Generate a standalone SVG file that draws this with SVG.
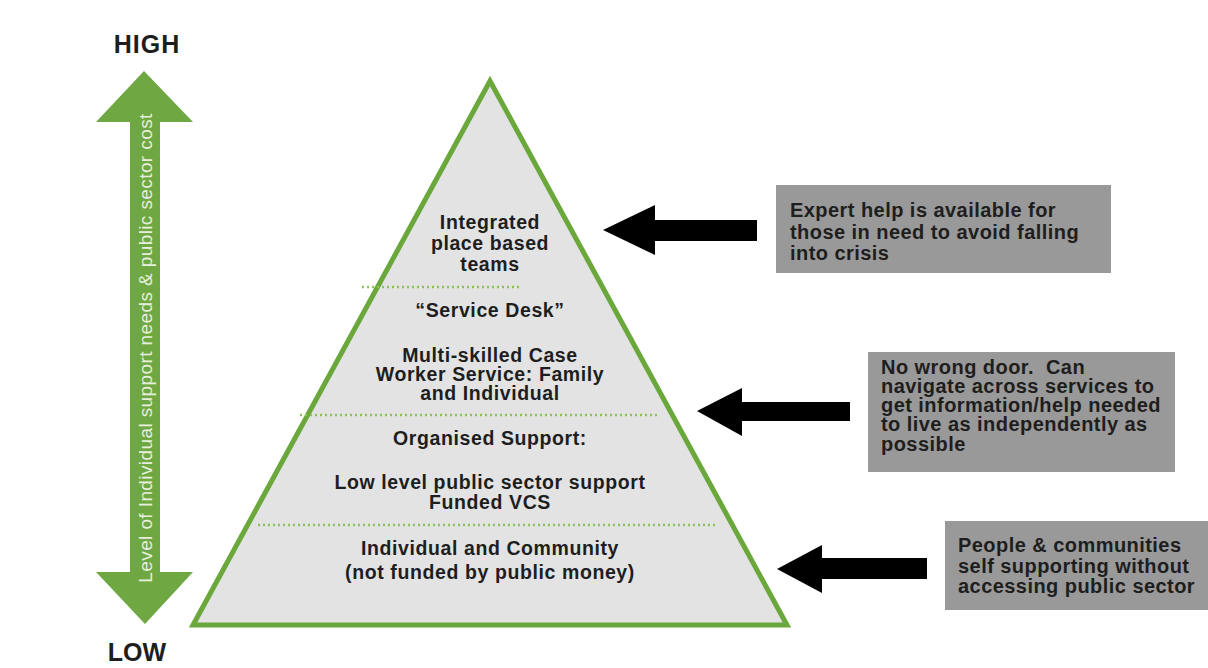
<svg xmlns="http://www.w3.org/2000/svg" width="1208" height="668" viewBox="0 0 1208 668">
<style>
.t{font-family:"Liberation Sans",Arial,sans-serif;font-weight:bold;fill:#1e1e1e}
.pt{font-size:19.5px;text-anchor:middle;letter-spacing:0.6px}
.bt{font-size:20px;letter-spacing:0.45px}
.dot{stroke:#8fbf5f;stroke-width:2.5;stroke-dasharray:2 3}
.box{fill:#999999}
.blk{fill:#000}
</style>
<rect width="1208" height="668" fill="#ffffff"/>
<g id="axis">
<text class="t" x="147" y="53" font-size="25" text-anchor="middle" letter-spacing="1">HIGH</text>
<text class="t" x="137" y="661" font-size="25" text-anchor="middle">LOW</text>
<path d="M144,71 L193,122 L160,122 L160,572 L193,572 L145,624 L96,572 L130,572 L130,122 L96,122 Z" fill="#6fa843"/>
<text class="t" transform="translate(152,348) rotate(-90)" font-size="19" text-anchor="middle" style="font-weight:normal;fill:#e6efdc" letter-spacing="0.4">Level of Individual support needs &amp; public sector cost</text>
</g>
<g id="pyramid">
<polygon points="490,81 193,625 787,625" fill="#e3e3e3" stroke="#6aa83c" stroke-width="5" stroke-linejoin="miter"/>
<line class="dot" x1="362" y1="287" x2="522" y2="287"/>
<line class="dot" x1="300" y1="415" x2="660" y2="415"/>
<line class="dot" x1="258" y1="525" x2="718" y2="525"/>
</g>
<g id="tier1">
<text class="t pt" x="490" y="229">Integrated</text>
<text class="t pt" x="490" y="250">place based</text>
<text class="t pt" x="490" y="271">teams</text>
</g>
<g id="tier2">
<text class="t pt" x="490" y="317">“Service Desk”</text>
<text class="t pt" x="490" y="362">Multi-skilled Case</text>
<text class="t pt" x="490" y="381">Worker Service: Family</text>
<text class="t pt" x="490" y="400">and Individual</text>
</g>
<g id="tier3">
<text class="t pt" x="490" y="445">Organised Support:</text>
<text class="t pt" x="490" y="489">Low level public sector support</text>
<text class="t pt" x="490" y="509">Funded VCS</text>
</g>
<g id="tier4">
<text class="t pt" x="490" y="555">Individual and Community</text>
<text class="t pt" x="490" y="579">(not funded by public money)</text>
</g>
<g id="connectors">
<path class="blk" d="M603,230 L655,205 L655,220 L757,220 L757,241 L655,241 L655,255 Z"/>
<path class="blk" d="M697,411 L742,388 L742,402 L850,402 L850,421 L742,421 L742,436 Z"/>
<path class="blk" d="M777,569 L822,545 L822,558 L927,558 L927,579 L822,579 L822,593 Z"/>
</g>
<g id="box1">
<rect class="box" x="776" y="185" width="335" height="88"/>
<text class="t bt" x="790" y="217">Expert help is available for</text>
<text class="t bt" x="790" y="239">those in need to avoid falling</text>
<text class="t bt" x="790" y="260">into crisis</text>
</g>
<g id="box2">
<rect class="box" x="868" y="352" width="307" height="120"/>
<text class="t bt" x="881" y="374" xml:space="preserve">No wrong door.  Can</text>
<text class="t bt" x="881" y="393">navigate across services to</text>
<text class="t bt" x="881" y="412">get information/help needed</text>
<text class="t bt" x="881" y="431">to live as independently as</text>
<text class="t bt" x="881" y="451">possible</text>
</g>
<g id="box3">
<rect class="box" x="945" y="521" width="263" height="89"/>
<text class="t bt" x="958" y="552">People &amp; communities</text>
<text class="t bt" x="958" y="573">self supporting without</text>
<text class="t bt" x="958" y="593">accessing public sector</text>
</g>
</svg>
